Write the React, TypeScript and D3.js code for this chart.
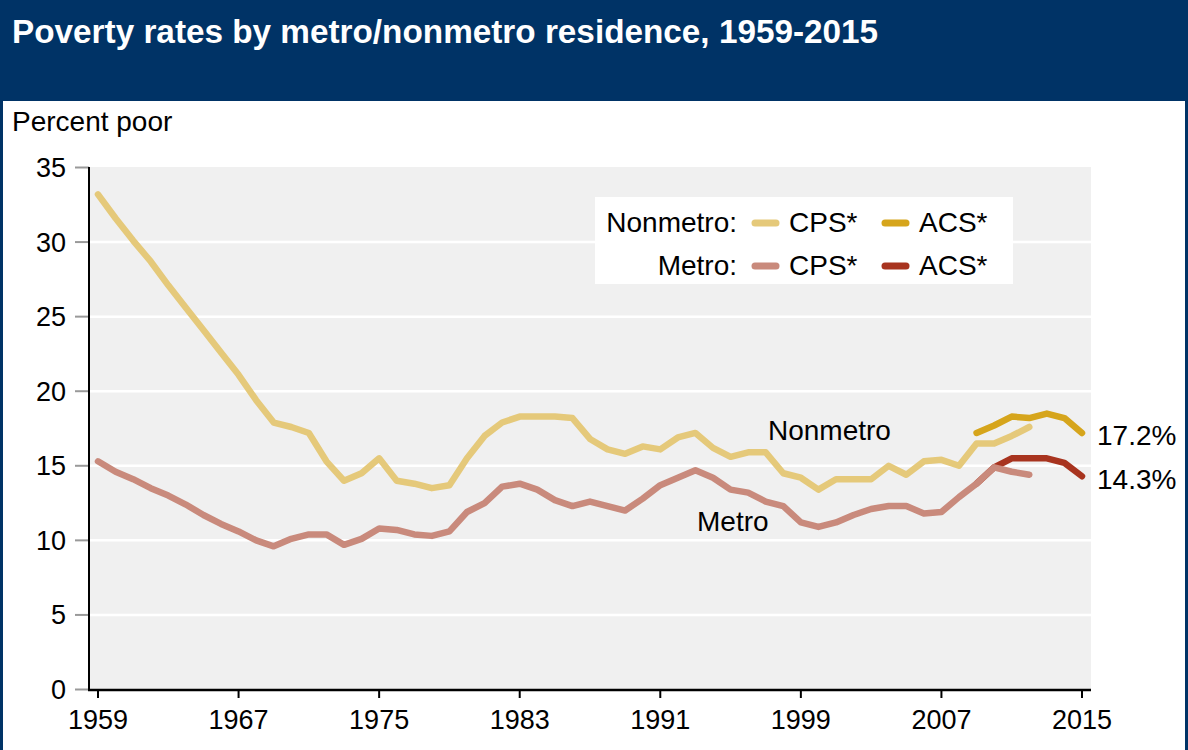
import React from "react";
import * as d3 from "d3";

const title = "Poverty rates by metro/nonmetro residence, 1959-2015";
const yAxisTitle = "Percent poor";

const cpsYears = d3.range(1959, 2013);
const acsYears = d3.range(2009, 2016);

const nonmetroCPS = [
  33.2, 31.6, 30.1, 28.7, 27.1, 25.6, 24.1, 22.6, 21.1, 19.4,
  17.9, 17.6, 17.2, 15.3, 14.0, 14.5, 15.5, 14.0, 13.8, 13.5,
  13.7, 15.5, 17.0, 17.9, 18.3, 18.3, 18.3, 18.2, 16.8, 16.1,
  15.8, 16.3, 16.1, 16.9, 17.2, 16.2, 15.6, 15.9, 15.9, 14.5,
  14.2, 13.4, 14.1, 14.1, 14.1, 15.0, 14.4, 15.3, 15.4, 15.0,
  16.5, 16.5, 17.0, 17.6,
];
const metroCPS = [
  15.3, 14.6, 14.1, 13.5, 13.0, 12.4, 11.7, 11.1, 10.6, 10.0,
  9.6, 10.1, 10.4, 10.4, 9.7, 10.1, 10.8, 10.7, 10.4, 10.3,
  10.6, 11.9, 12.5, 13.6, 13.8, 13.4, 12.7, 12.3, 12.6, 12.3,
  12.0, 12.8, 13.7, 14.2, 14.7, 14.2, 13.4, 13.2, 12.6, 12.3,
  11.2, 10.9, 11.2, 11.7, 12.1, 12.3, 12.3, 11.8, 11.9, 12.9,
  13.8, 14.9, 14.6, 14.4,
];
const nonmetroACS = [17.2, 17.7, 18.3, 18.2, 18.5, 18.2, 17.2];
const metroACS = [13.8, 14.9, 15.5, 15.5, 15.5, 15.2, 14.3];

const yTicks = [0, 5, 10, 15, 20, 25, 30, 35];
const xTicks = [1959, 1967, 1975, 1983, 1991, 1999, 2007, 2015];

const seriesLabels = ["Nonmetro", "Metro"];
const endLabels = ["17.2%", "14.3%"];
const legendGroups = ["Nonmetro:", "Metro:"];
const legendKeys = ["CPS*", "ACS*"];

const COLORS = {
  nonCPS: "#e5c97a",
  nonACS: "#d6a51c",
  metCPS: "#c98a7c",
  metACS: "#a8341f",
  navy: "#003366",
  plotBg: "#f0f0f0",
};

const FONT = "'Liberation Sans', Arial, Helvetica, sans-serif";

export default function App() {
  const W = 1188;
  const H = 750;
  const plotLeft = 89;
  const plotRight = 1091;
  const plotTop = 167;
  const plotBottom = 690;

  const x = d3.scaleLinear().domain([1959, 2015]).range([98, 1082]);
  const y = d3.scaleLinear().domain([0, 35]).range([689.5, 167.5]);

  const line = d3
    .line<[number, number]>()
    .x((d) => x(d[0]))
    .y((d) => y(d[1]));

  const pair = (years: number[], vals: number[]) =>
    years.map((yr, i) => [yr, vals[i]] as [number, number]);

  const lines = [
    { data: pair(acsYears, nonmetroACS), color: COLORS.nonACS },
    { data: pair(cpsYears, nonmetroCPS), color: COLORS.nonCPS },
    { data: pair(acsYears, metroACS), color: COLORS.metACS },
    { data: pair(cpsYears, metroCPS), color: COLORS.metCPS },
  ];

  const legendColors = [
    [COLORS.nonCPS, COLORS.nonACS],
    [COLORS.metCPS, COLORS.metACS],
  ];

  return (
    <svg
      width={W}
      height={H}
      style={{ position: "fixed", left: 0, top: 0, background: "#fff" }}
      fontFamily={FONT}
    >
      <rect x={0} y={0} width={W} height={H} fill="#fff" />
      {/* title bar */}
      <rect x={0} y={0} width={W} height={101} fill={COLORS.navy} />
      <rect x={0} y={0} width={3} height={H} fill={COLORS.navy} />
      <rect x={W - 3} y={0} width={3} height={H} fill={COLORS.navy} />
      <text x={12} y={43} fill="#fff" fontSize={33.3} fontWeight="bold">
        {title}
      </text>
      <text x={12} y={131} fill="#000" fontSize={28}>
        {yAxisTitle}
      </text>

      {/* plot background */}
      <rect
        x={plotLeft}
        y={plotTop}
        width={plotRight - plotLeft}
        height={plotBottom - plotTop}
        fill={COLORS.plotBg}
      />
      {yTicks
        .filter((t) => t > 0 && t < 35)
        .map((t) => (
          <line
            key={"g" + t}
            x1={plotLeft}
            x2={plotRight}
            y1={y(t)}
            y2={y(t)}
            stroke="#fff"
            strokeWidth={2.5}
          />
        ))}

      {/* legend */}
      <rect x={595} y={197} width={418} height={87} fill="#fff" />
      {legendGroups.map((g, r) => {
        const cy = r === 0 ? 223 : 266;
        return (
          <g key={g}>
            <text
              x={737}
              y={cy + 9}
              textAnchor="end"
              fontSize={28}
              fill="#000"
            >
              {g}
            </text>
            {legendKeys.map((k, c) => {
              const sx = c === 0 ? 752 : 882;
              return (
                <g key={k}>
                  <line
                    x1={sx + 3}
                    x2={sx + 24}
                    y1={cy}
                    y2={cy}
                    stroke={legendColors[r][c]}
                    strokeWidth={7}
                    strokeLinecap="round"
                  />
                  <text x={sx + 37} y={cy + 9} fontSize={28} fill="#000">
                    {k}
                  </text>
                </g>
              );
            })}
          </g>
        );
      })}

      {/* lines */}
      {lines.map((l, i) => (
        <path
          key={i}
          d={line(l.data) || ""}
          fill="none"
          stroke={l.color}
          strokeWidth={6.5}
          strokeLinecap="round"
          strokeLinejoin="round"
        />
      ))}

      {/* series labels */}
      <text x={768} y={440} fontSize={28} fill="#000">
        {seriesLabels[0]}
      </text>
      <text x={697} y={531} fontSize={28} fill="#000">
        {seriesLabels[1]}
      </text>
      <text x={1097} y={445} fontSize={28} fill="#000">
        {endLabels[0]}
      </text>
      <text x={1097} y={489} fontSize={28} fill="#000">
        {endLabels[1]}
      </text>

      {/* y axis */}
      {yTicks.map((t) => (
        <g key={"y" + t}>
          <line
            x1={75}
            x2={plotLeft}
            y1={y(t)}
            y2={y(t)}
            stroke="#999"
            strokeWidth={2}
          />
          <text
            x={66}
            y={y(t) + 9.5}
            textAnchor="end"
            fontSize={27}
            fill="#000"
          >
            {t}
          </text>
        </g>
      ))}
      <line
        x1={plotLeft}
        x2={plotLeft}
        y1={plotTop}
        y2={plotBottom}
        stroke="#000"
        strokeWidth={2}
      />

      {/* x axis */}
      <line
        x1={plotLeft - 1}
        x2={plotRight}
        y1={plotBottom}
        y2={plotBottom}
        stroke="#000"
        strokeWidth={2.5}
      />
      {xTicks.map((t) => (
        <g key={"x" + t}>
          <line
            x1={x(t)}
            x2={x(t)}
            y1={plotBottom}
            y2={plotBottom + 8}
            stroke="#000"
            strokeWidth={2}
          />
          <text
            x={x(t)}
            y={729}
            textAnchor="middle"
            fontSize={27}
            fill="#000"
          >
            {t}
          </text>
        </g>
      ))}
    </svg>
  );
}
